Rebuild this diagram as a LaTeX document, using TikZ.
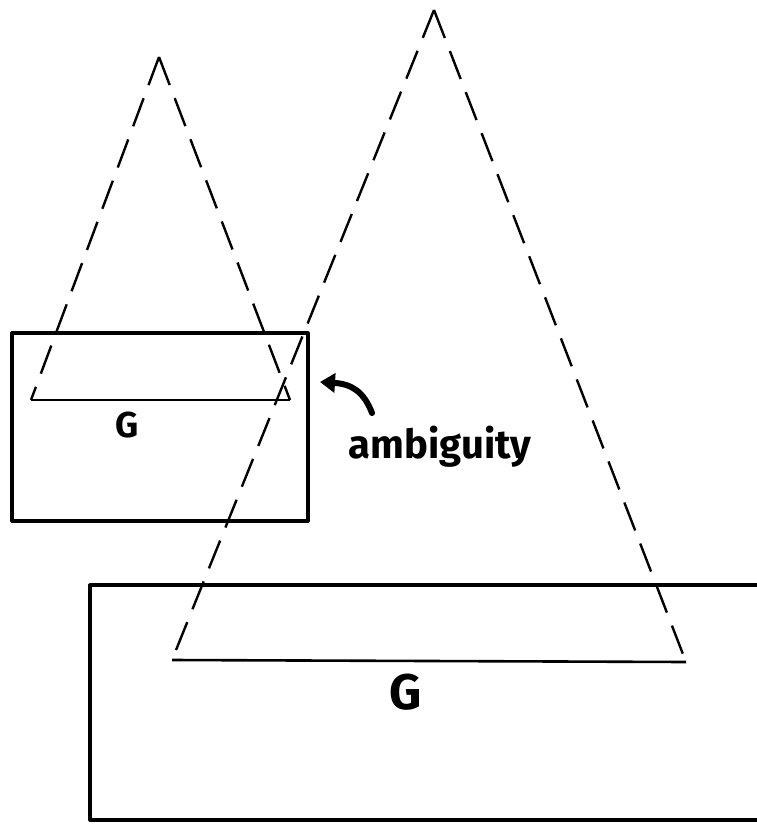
\documentclass[tikz,border=0pt]{standalone}
\usepackage{fontspec}
\newfontfamily\handfont{Fira Sans}
\usetikzlibrary{arrows.meta}
\begin{document}
\begin{tikzpicture}[x=1pt,y=-1pt,
  frame/.style={line width=3.2pt, line join=round},
  side/.style={line width=2.4pt, dash pattern=on 30pt off 14pt},
  baseline/.style={line width=2.6pt},
  lbl/.style={font=\handfont\bfseries\fontsize{36}{38}\selectfont, inner sep=0pt},
  biglbl/.style={font=\handfont\bfseries\fontsize{50}{52}\selectfont, inner sep=0pt},
  note/.style={font=\handfont\bfseries\fontsize{40}{44}\selectfont, inner sep=0pt}]
\useasboundingbox (0,0) rectangle (757,824);
% small rectangle and triangle
\draw[frame] (12,333) rectangle (308,521);
\coordinate (sa) at (159,57);
\coordinate (sl) at (31,400);
\coordinate (sr) at (290,400);
\draw[side] (sa) -- (sl);
\draw[side] (sa) -- (sr);
\draw[baseline] (sl) -- (sr);
\node[lbl] (g1) at (127,425) {G};
% large rectangle and triangle
\draw[frame] (757,585) -- (90,585) -- (90,820) -- (757,820);
\coordinate (la) at (434,10);
\coordinate (ll) at (172,660);
\coordinate (lr) at (686,662);
\draw[side] (la) -- (ll);
\draw[side] (la) -- (lr);
\draw[baseline] (ll) -- (lr);
\node[biglbl] (g2) at (406,692) {G};
% ambiguity note
\node[note] (amb) at (440,447) {ambiguity};
\coordinate (as) at (372,413);
\coordinate (ae) at (320,382);
\draw[line width=6pt, line cap=round, -{Triangle[length=15pt,width=19pt]}] (as) .. controls (364,392) and (352,384) .. (ae);
\end{tikzpicture}
\end{document}
